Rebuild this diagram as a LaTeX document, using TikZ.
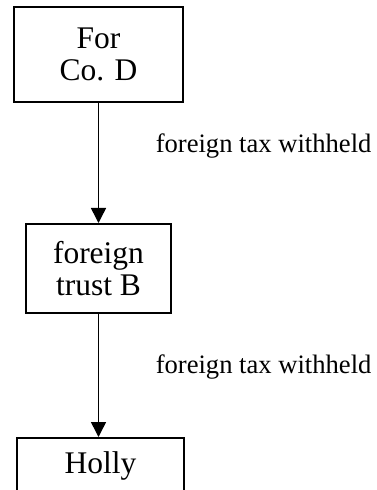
\documentclass[tikz,border=0pt]{standalone}
\usepackage{fontspec}
\setmainfont{Liberation Serif}
\usetikzlibrary{positioning}
\usetikzlibrary{arrows.meta}
\usetikzlibrary{math}

\begin{document}
\begin{tikzpicture}[x=1bp,y=-1bp,line width=1.5bp,
  box/.style={draw,line width=2bp,align=center,inner sep=0pt,
    font=\fontsize{31.5bp}{32bp}\selectfont},
  flow/.style={-{Triangle[width=15bp,length=15bp]}},
  note/.style={anchor=base west,inner sep=0pt,
    font=\fontsize{26.6bp}{30bp}\selectfont}]

  \tikzmath{
    \axis = 98.5; % middle of the chain of boxes
    \notex = 155; % left end of the labels
  }

  % page frame, the last box runs off the bottom
  \useasboundingbox (0,0) rectangle (376,490);
  \clip (0,0) rectangle (376,490);

  % boxes
  \node[box, minimum width=169bp, minimum height=95bp] (ForCo) at (\axis,54.5) {For\\Co. D};
  \node[box, minimum width=145bp, minimum height=89bp] (trust) at (\axis,268.5) {foreign\\trust B};
  \node[box, minimum width=167bp, minimum height=56bp] (Holly) at (100.5,466) {Holly};

  % arrows
  \draw[flow] (ForCo.south) -- (trust.north);
  \draw[flow] (trust.south) -- (trust.south |- Holly.north);

  % labels of the arrows
  \node[note] (tax1) at (\notex,153) {foreign tax withheld};
  \node[note] (tax2) at (\notex,373) {foreign tax withheld};

\end{tikzpicture}
\end{document}
